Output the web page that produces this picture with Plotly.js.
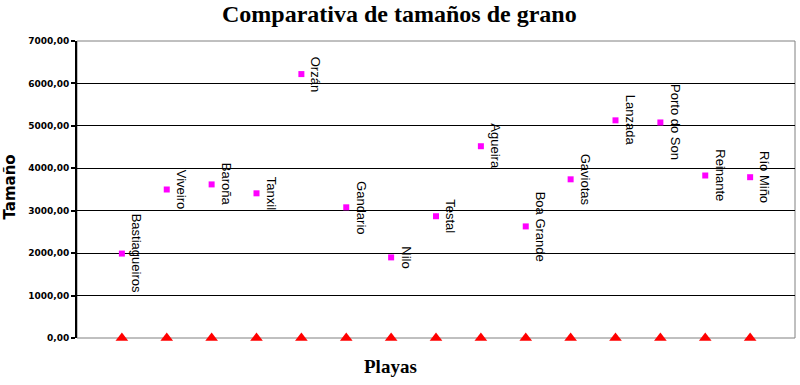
<!DOCTYPE html>
<html><head><meta charset="utf-8">
<script src="https://cdn.plot.ly/plotly-3.0.1.min.js"></script>
<style>html,body{margin:0;padding:0;background:#fff}#chart{width:800px;height:385px}</style>
</head><body><div id="chart"></div>
<script>
const playas = ["Bastiagueiros","Viveiro","Baroña","Tanxil","Orzán","Gandario","Nilo","Testal","Agueira","Boa Grande","Gaviotas","Lanzada","Porto do Son","Reinante","Río Miño"];
const tamano = [1990, 3500, 3620, 3410, 6220, 3080, 1900, 2870, 4520, 2630, 3740, 5130, 5080, 3830, 3790];
const base = [0,0,0,0,0,0,0,0,0,0,0,0,0,0,0];
const yTicks = [0,1000,2000,3000,4000,5000,6000,7000];

const xpos = playas.map((p,i)=>i+1);

const traces = [
  {x: xpos, y: tamano, type:'scatter', mode:'markers', marker:{symbol:'square', color:'#ff00ff', size:6}, cliponaxis:false, hoverinfo:'skip'},
  {x: xpos, y: base, type:'scatter', mode:'markers', marker:{symbol:'triangle-up', color:'#ff0000', size:11}, cliponaxis:false, hoverinfo:'skip'}
];

const serif = 'Liberation Serif, Times New Roman, serif';
const annotations = playas.map((p,i)=>({
  x: xpos[i], y: tamano[i], xref:'x', yref:'y', text:p, showarrow:false,
  textangle:90, xshift:15, font:{family:'Liberation Sans, Arial, sans-serif', size:13, color:'#000'},
  xanchor:'center', yanchor:'middle'
}));
annotations.push({text:'Comparativa de tamaños de grano', xref:'paper', yref:'paper', x:0.4485, y:1, yshift:27, showarrow:false, xanchor:'center', yanchor:'middle', font:{family:serif, size:24, color:'#000', weight:'bold'}});
annotations.push({text:'Playas', xref:'paper', yref:'paper', x:0.436, y:0, yshift:-28, showarrow:false, xanchor:'center', yanchor:'middle', font:{family:serif, size:19, color:'#000', weight:'bold'}});
annotations.push({text:'Tamaño', xref:'paper', yref:'paper', x:0, y:0.5067, xshift:-67, textangle:-90, showarrow:false, xanchor:'center', yanchor:'middle', font:{family:'DejaVu Sans, Verdana, sans-serif', size:15, color:'#000', weight:'bold'}});

const layout = {
  width:800, height:385, margin:{l:77, r:5, t:41, b:47},
  paper_bgcolor:'#fff', plot_bgcolor:'#fff', showlegend:false,
  xaxis:{range:[0,16], showgrid:false, zeroline:false, showticklabels:false, ticks:'', showline:false},
  yaxis:{range:[0,7000], tickvals:yTicks, tickformat:'.2f', showgrid:true, gridcolor:'#000', gridwidth:1,
    zeroline:false, showline:true, linecolor:'#000', linewidth:2, ticks:'outside', ticklen:4, tickcolor:'#000', tickwidth:2,
    tickfont:{family:'DejaVu Sans, Verdana, sans-serif', size:9, color:'#000', weight:'bold'}},
  separators:',.',
  shapes:[{type:'rect', xref:'paper', yref:'paper', x0:0, x1:1, y0:0, y1:1, line:{color:'#808080', width:1}, layer:'below'}],
  annotations: annotations
};
Plotly.newPlot('chart', traces, layout, {staticPlot:true});
</script></body></html>
